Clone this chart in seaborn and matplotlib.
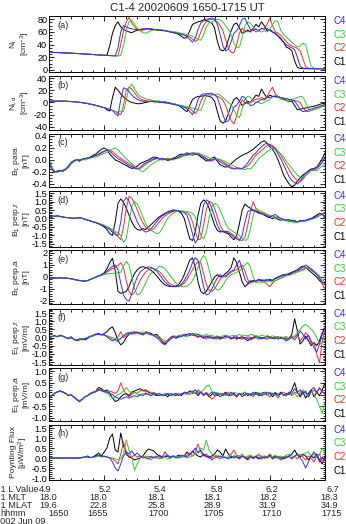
import numpy as np
import pandas as pd
import matplotlib
matplotlib.use("Agg")
import matplotlib.pyplot as plt
import seaborn as sns
from matplotlib.ticker import MultipleLocator, AutoMinorLocator, FormatStrFormatter

# minutes after 16:50 UT, one sample every 15 s
t_min = np.arange(101) * 0.25

# (a) ion density N_i [cm^-3]
n_c1 = [28.0,27.8,27.6,27.5,27.3,27.1,26.9,26.7,26.5,26.3,
        26.0,25.8,25.5,25.2,25.0,24.7,24.4,24.1,23.8,23.5,
        23.2,23.5,38,58,70,76,68,64,62,60,
        59,61,63,64,64,65,65,64,64,63,
        63,62,62,61,60,59,58,56,53,50,
        52,62,72,74,76,77,79,78,76,74,
        66,45,32,30,34,48,62,72,74,66,
        58,60,63,60,66,72,68,76,70,62,
        64,60,58,54,50,44,36,34,30,14,
        4,2.5,2.2,2.0,2.0,1.9,1.9,1.8,1.8,1.8,
        1.7]
n_c2 = [28.0,27.8,27.6,27.5,27.3,27.1,26.9,26.7,26.5,26.3,
        26.0,25.8,25.5,25.2,25.0,24.7,24.4,24.1,23.8,23.5,
        23.2,23.0,22.7,22.5,22.3,22.5,40,62,76,83,
        74,68,64,62,63,64,65,65,64,64,
        63,63,62,61,60,60,59,58,57,55,
        54,52,49,45,48,60,70,76,80,80,
        78,76,70,62,48,34,28,27,40,58,
        66,62,60,62,64,60,62,65,66,72,
        82,70,60,58,55,50,45,40,38,36,
        34,30,18,5,3,2.4,2.2,2.1,2.0,2.0,
        1.9]
n_c3 = [28.0,27.8,27.6,27.5,27.3,27.1,26.9,26.7,26.5,26.3,
        26.0,25.8,25.5,25.2,25.0,24.7,24.4,24.1,23.8,23.5,
        23.2,23.0,22.7,22.5,22.3,22.1,23,38,62,76,
        79,72,66,62,59,58,60,62,63,64,
        64,63,62,62,61,60,60,59,58,57,
        56,55,53,51,48,47,55,68,74,76,
        78,80,79,76,70,64,56,42,35,36,
        52,70,76,74,68,64,62,60,62,60,
        64,72,78,76,62,56,52,48,44,40,
        36,38,42,40,22,6,3,2.4,2.2,2.1,
        2.0]
n_c4 = [28.0,27.8,27.6,27.5,27.3,27.1,26.9,26.7,26.5,26.3,
        26.0,25.8,25.5,25.2,25.0,24.7,24.4,24.1,23.8,23.5,
        23.2,23.0,22.7,22.5,22.0,35,60,70,68,66,
        65,64,64,64,65,65,65,65,64,64,
        63,63,62,61,60,59,58,57,56,55,
        53,48,44,50,64,74,78,80,81,82,
        80,72,56,38,30,33,45,58,62,70,
        80,82,72,64,62,65,62,66,64,66,
        62,60,57,53,48,44,40,37,35,32,
        20,6,3,2.4,2.2,2.1,2.0,2.0,1.9,1.9,
        1.8]

# (b) detrended density [cm^-3]
dn_c1 = [2.0,2.1,2.2,2.2,2.2,2.1,2.0,1.8,1.5,1.2,
         0.8,0.3,-0.3,-1.0,-1.8,-2.7,-3.7,-4.8,-6.0,-7.3,
         -8.6,-12,-14,8,25,20,14,9,5,2,
         0,-1,-2,-2,-1,0,1,2,2,2,
         2,1,1,0,-1,-2,-3,-5,-8,-12,
         -15,-5,5,8,10,10,11,11,10,8,
         2,-15,-30,-34,-30,-18,-5,5,8,2,
         -5,-2,2,0,6,12,10,22,14,8,
         12,10,10,9,8,6,3,2,2,-5,
         -12,-11,-10,-9,-8,-7,-6,-5,-3,-2,
         -1]
dn_c2 = [2.0,2.1,2.2,2.2,2.2,2.1,2.0,1.8,1.5,1.2,
         0.8,0.3,-0.3,-1.0,-1.8,-2.7,-3.7,-4.8,-6.0,-7.3,
         -8.6,-10,-11.5,-13,-14.5,-18,-20,-5,20,25,
         22,16,10,6,4,3,2,2,1,1,
         0,0,-1,-1,-2,-3,-4,-5,-6,-7,
         -8,-10,-14,-18,-12,2,10,14,15,15,
         12,10,8,4,-5,-18,-30,-35,-22,-5,
         4,0,-2,0,3,5,6,8,6,10,
         18,25,14,10,8,7,6,5,4,3,
         2,0,-8,-14,-15,-13,-11,-10,-8,-6,
         -4]
dn_c3 = [2.0,2.1,2.2,2.2,2.2,2.1,2.0,1.8,1.5,1.2,
         0.8,0.3,-0.3,-1.0,-1.8,-2.7,-3.7,-4.8,-6.0,-7.3,
         -8.6,-10,-11.5,-13,-14.5,-16,-14,-15,5,24,
         30,22,15,10,8,6,5,4,3,2,
         2,1,0,-1,-1,-2,-3,-4,-5,-6,
         -7,-8,-9,-10,-12,-13,-2,10,12,12,
         13,14,12,8,4,0,-4,-12,-22,-25,
         -10,6,10,8,2,0,0,-2,0,3,
         5,9,12,10,5,4,3,4,5,6,
         8,10,9,0,-10,-13,-12,-10,-9,-7,
         -6]
dn_c4 = [2.0,2.1,2.2,2.2,2.2,2.1,2.0,1.8,1.5,1.2,
         0.8,0.3,-0.3,-1.0,-1.8,-2.7,-3.7,-4.8,-6.0,-7.3,
         -8.6,-10,-11.5,-13,-18,-22,5,24,22,18,
         12,8,5,3,2,2,2,2,1,1,
         1,0,0,-1,-2,-3,-4,-5,-6,-8,
         -10,-15,-20,-10,5,12,14,14,14,14,
         13,8,-5,-20,-32,-30,-20,-8,-4,2,
         10,8,0,-5,-4,0,2,5,4,8,
         8,10,9,9,8,7,6,5,4,2,
         -4,-12,-15,-14,-12,-11,-9,-8,-6,-5,
         -3]

# (c) B para [nT]
bp_c1 = [-0.02,-0.15,-0.20,-0.19,-0.17,-0.19,-0.16,-0.12,-0.05,-0.02,
         0.00,-0.02,0.01,0.03,0.02,0.05,0.08,0.10,0.14,0.18,
         0.20,0.17,0.10,0.05,0.00,-0.02,-0.04,-0.07,-0.09,-0.12,
         -0.14,-0.13,-0.10,-0.06,-0.04,-0.02,0.00,0.03,0.05,0.04,
         0.02,0.00,0.02,-0.01,0.01,0.03,0.05,0.08,0.10,0.08,
         0.12,0.10,0.08,0.11,0.09,0.05,0.02,-0.02,0.00,0.03,
         0.05,-0.02,-0.08,-0.10,-0.12,-0.10,-0.06,-0.02,0.02,0.05,
         0.08,0.10,0.12,0.15,0.18,0.22,0.26,0.30,0.32,0.28,
         0.22,0.18,0.10,0.00,-0.12,-0.25,-0.33,-0.40,-0.45,-0.42,
         -0.35,-0.30,-0.25,-0.22,-0.18,-0.15,-0.14,-0.12,-0.05,0.02,
         0.12]
bp_c2 = [-0.01,-0.14,-0.19,-0.20,-0.18,-0.18,-0.16,-0.12,-0.06,-0.02,
         0.00,0.01,0.00,0.02,0.03,0.04,0.05,0.07,0.09,0.11,
         0.14,0.16,0.17,0.14,0.10,0.06,0.03,0.00,-0.03,-0.06,
         -0.09,-0.12,-0.14,-0.15,-0.11,-0.07,-0.04,-0.02,0.01,0.02,
         0.03,0.01,0.02,0.00,0.02,0.01,0.03,0.04,0.06,0.08,
         0.10,0.08,0.11,0.12,0.10,0.08,0.06,0.03,0.00,-0.02,
         0.01,0.02,0.00,-0.03,-0.06,-0.09,-0.12,-0.14,-0.15,-0.13,
         -0.15,-0.12,-0.10,-0.05,0.02,0.08,0.12,0.16,0.20,0.24,
         0.26,0.24,0.20,0.14,0.08,0.00,-0.08,-0.16,-0.24,-0.30,
         -0.34,-0.36,-0.32,-0.26,-0.20,-0.16,-0.15,-0.13,-0.08,-0.03,
         0.04]
bp_c3 = [0.05,-0.12,-0.18,-0.21,-0.18,-0.17,-0.17,-0.13,-0.07,-0.03,
         -0.01,0.00,0.01,0.00,0.02,0.03,0.04,0.05,0.07,0.09,
         0.11,0.13,0.15,0.18,0.20,0.17,0.12,0.07,0.02,-0.02,
         -0.06,-0.10,-0.14,-0.17,-0.20,-0.16,-0.12,-0.08,-0.05,-0.02,
         0.00,0.02,0.01,0.03,0.01,0.00,0.02,0.03,0.05,0.07,
         0.08,0.10,0.08,0.10,0.12,0.10,0.08,0.06,0.04,0.02,
         0.00,0.02,0.01,-0.01,-0.03,-0.06,-0.08,-0.10,-0.12,-0.14,
         -0.15,-0.16,-0.14,-0.15,-0.10,-0.04,0.02,0.06,0.10,0.14,
         0.17,0.20,0.18,0.15,0.10,0.05,-0.02,-0.08,-0.14,-0.20,
         -0.25,-0.28,-0.30,-0.26,-0.22,-0.18,-0.16,-0.18,-0.14,-0.10,
         -0.08]
bp_c4 = [0.00,-0.16,-0.20,-0.18,-0.19,-0.17,-0.15,-0.10,-0.04,-0.01,
         0.01,-0.01,0.02,0.02,0.04,0.04,0.06,0.08,0.10,0.13,
         0.15,0.17,0.15,0.10,0.06,0.02,0.00,-0.03,-0.06,-0.09,
         -0.11,-0.14,-0.15,-0.12,-0.08,-0.05,-0.03,0.00,0.02,0.03,
         0.01,0.03,0.00,0.02,0.00,0.02,0.03,0.05,0.08,0.10,
         0.08,0.11,0.12,0.09,0.10,0.07,0.04,0.02,-0.02,0.00,
         0.02,0.00,-0.03,-0.06,-0.08,-0.12,-0.14,-0.15,-0.13,-0.15,
         -0.14,-0.10,-0.05,0.02,0.08,0.12,0.18,0.22,0.26,0.28,
         0.25,0.22,0.18,0.10,0.02,-0.08,-0.18,-0.28,-0.34,-0.38,
         -0.40,-0.35,-0.28,-0.22,-0.18,-0.16,-0.17,-0.14,-0.10,-0.04,
         0.05]

# (d) B perp,r [nT]
br_c1 = [0.10,0.15,0.12,0.16,0.12,0.08,0.05,0.06,0.02,0.00,
         0.03,0.05,0.02,-0.05,-0.10,-0.15,-0.20,-0.25,-0.32,-0.40,
         -0.50,-0.65,-0.90,-1.00,-0.20,0.90,1.15,0.95,0.60,0.20,
         -0.20,-0.50,-0.65,-0.70,-0.60,-0.65,-0.50,-0.35,-0.20,-0.05,
         0.10,0.20,0.30,0.38,0.45,0.50,0.48,0.40,0.30,0.00,
         -0.60,-1.20,-1.30,-0.80,0.20,0.90,1.10,0.95,0.60,0.10,
         -0.40,-0.70,-0.80,-0.75,-0.85,-0.90,-1.10,-1.25,-1.00,-0.30,
         0.50,0.85,0.70,0.60,0.50,0.45,0.35,0.30,0.20,0.10,
         0.05,0.00,0.05,-0.05,-0.10,-0.05,-0.10,-0.15,-0.10,-0.15,
         -0.20,-0.12,-0.15,-0.10,-0.05,0.00,0.10,0.20,0.30,0.25,
         0.05]
br_c2 = [0.10,0.13,0.14,0.14,0.12,0.10,0.06,0.04,0.03,0.02,
         0.02,0.03,0.01,-0.04,-0.09,-0.14,-0.19,-0.24,-0.30,-0.36,
         -0.42,-0.50,-0.60,-0.75,-0.85,-1.05,-1.25,-0.50,0.60,1.30,
         1.20,0.90,0.50,0.10,-0.25,-0.50,-0.65,-0.70,-0.60,-0.40,
         -0.20,0.00,0.15,0.25,0.35,0.40,0.45,0.45,0.42,0.40,
         0.35,0.20,-0.20,-0.80,-1.25,-1.20,-0.40,0.50,1.00,0.95,
         0.60,0.10,-0.40,-0.70,-0.80,-0.75,-0.90,-1.00,-1.10,-1.25,
         -1.30,-1.10,-0.40,0.40,1.00,0.60,0.40,0.35,0.30,0.20,
         0.15,0.10,0.05,0.10,0.00,-0.05,-0.10,-0.20,-0.15,-0.25,
         -0.20,-0.15,-0.20,-0.10,-0.10,-0.05,0.00,0.10,0.20,0.30,
         0.10]
br_c3 = [0.10,0.12,0.14,0.13,0.12,0.10,0.07,0.04,0.02,0.02,
         0.02,0.02,0.00,-0.03,-0.08,-0.13,-0.18,-0.22,-0.28,-0.34,
         -0.40,-0.48,-0.56,-0.65,-0.75,-0.85,-1.00,-1.40,-1.20,-0.20,
         0.70,1.00,0.85,0.50,0.10,-0.30,-0.55,-0.70,-0.80,-0.90,
         -0.85,-0.60,-0.30,0.00,0.20,0.30,0.40,0.45,0.45,0.42,
         0.40,0.38,0.30,0.10,-0.40,-1.00,-1.20,-0.80,0.00,0.70,
         0.90,0.80,0.50,0.10,-0.30,-0.60,-0.70,-0.80,-0.90,-1.00,
         -1.15,-1.30,-1.20,-0.60,0.20,0.60,0.50,0.40,0.35,0.25,
         0.20,0.15,0.10,0.05,0.00,-0.10,-0.15,-0.10,-0.20,-0.25,
         -0.20,-0.20,-0.15,-0.10,-0.05,-0.05,0.00,0.05,0.15,0.25,
         0.05]
br_c4 = [0.10,0.14,0.13,0.15,0.12,0.09,0.06,0.05,0.03,0.01,
         0.02,0.04,0.02,-0.04,-0.10,-0.14,-0.20,-0.25,-0.30,-0.38,
         -0.45,-0.55,-0.65,-0.80,-0.95,-1.00,-0.20,1.00,1.25,1.00,
         0.60,0.20,-0.20,-0.50,-0.70,-0.80,-0.75,-0.60,-0.40,-0.20,
         0.00,0.15,0.25,0.35,0.40,0.45,0.48,0.45,0.40,0.35,
         0.20,-0.30,-0.90,-1.45,-1.20,-0.20,0.80,1.10,1.00,0.60,
         0.10,-0.40,-0.70,-0.80,-0.75,-0.85,-0.95,-1.10,-1.20,-1.30,
         -1.00,-0.20,0.40,0.50,0.45,0.40,0.30,0.28,0.22,0.15,
         0.10,0.15,0.25,0.10,0.00,-0.05,-0.10,-0.05,-0.15,-0.10,
         -0.20,-0.15,-0.10,-0.15,-0.05,0.00,0.05,0.15,0.30,0.25,
         0.10]

# (e) B perp,a [nT]
ba_c1 = [-0.10,-0.12,-0.08,-0.10,-0.05,-0.10,-0.08,-0.12,-0.15,-0.20,
         -0.25,-0.30,-0.32,-0.35,-0.30,-0.20,-0.10,0.00,0.10,0.20,
         0.35,0.70,1.20,1.55,0.50,-1.20,-1.35,-1.30,-1.20,-0.80,
         -0.20,0.30,0.60,0.80,0.85,0.80,0.70,0.55,0.35,0.10,
         -0.20,-0.45,-0.65,-0.75,-0.80,-0.80,-0.75,-0.60,-0.30,0.20,
         0.80,1.40,1.60,0.80,-0.40,-1.20,-1.40,-1.20,-0.80,-0.40,
         0.00,0.20,0.00,0.10,0.30,0.50,0.80,1.60,1.20,0.40,
         -0.40,-0.80,-0.60,-0.40,-0.30,-0.35,-0.20,-0.30,-0.25,-0.35,
         -0.20,-0.30,-0.10,0.00,0.10,0.20,0.15,0.30,0.40,0.50,
         0.60,0.80,0.90,0.80,0.60,0.40,0.20,0.00,-0.30,-0.50,
         -0.40]
ba_c2 = [-0.10,-0.11,-0.09,-0.09,-0.07,-0.09,-0.09,-0.11,-0.14,-0.19,
         -0.24,-0.29,-0.31,-0.33,-0.30,-0.21,-0.11,-0.01,0.08,0.17,
         0.25,0.40,0.55,0.70,0.80,0.95,1.20,0.80,-0.30,-1.20,
         -1.50,-1.30,-0.80,-0.30,0.10,0.40,0.60,0.70,0.70,0.60,
         0.45,0.20,-0.10,-0.40,-0.60,-0.70,-0.80,-0.80,-0.70,-0.50,
         -0.20,0.20,0.60,1.00,1.30,1.20,0.30,-0.60,-1.10,-1.20,
         -1.00,-0.60,-0.20,0.10,0.00,0.20,0.40,0.50,0.60,0.80,
         1.00,0.50,-0.20,-0.50,-0.40,-0.35,-0.30,-0.20,-0.40,-0.60,
         -0.80,-0.50,-0.30,-0.20,-0.10,0.00,0.10,0.20,0.30,0.35,
         0.45,0.55,0.65,0.75,0.80,0.70,0.50,0.30,0.00,-0.60,
         -1.00]
ba_c3 = [-0.10,-0.10,-0.10,-0.09,-0.08,-0.08,-0.10,-0.11,-0.13,-0.18,
         -0.22,-0.27,-0.30,-0.32,-0.30,-0.22,-0.12,-0.03,0.05,0.12,
         0.20,0.25,0.30,0.30,0.30,0.35,0.40,0.90,1.30,1.00,
         0.00,-1.00,-1.50,-1.40,-1.00,-0.50,0.00,0.30,0.50,0.70,
         0.90,0.85,0.70,0.40,0.10,-0.20,-0.50,-0.70,-0.80,-0.80,
         -0.75,-0.60,-0.30,0.20,0.80,1.40,1.80,1.50,0.60,-0.30,
         -0.90,-1.10,-1.00,-0.70,-0.30,0.00,0.20,0.30,0.40,0.50,
         0.70,1.00,1.20,0.80,0.00,-0.50,-0.40,-0.50,-0.40,-0.30,
         -0.35,-0.45,-0.30,-0.20,-0.10,0.00,0.10,0.15,0.20,0.30,
         0.40,0.50,0.55,0.70,0.75,0.60,0.45,0.30,0.10,-0.20,
         -0.40]
ba_c4 = [-0.10,-0.10,-0.09,-0.10,-0.07,-0.10,-0.09,-0.12,-0.15,-0.20,
         -0.25,-0.30,-0.32,-0.34,-0.30,-0.20,-0.10,0.00,0.10,0.20,
         0.30,0.50,0.70,0.90,1.00,0.60,-0.50,-1.50,-1.90,-2.00,
         -1.40,-0.60,0.00,0.40,0.60,0.75,0.85,0.80,0.70,0.50,
         0.20,-0.10,-0.40,-0.60,-0.75,-0.80,-0.80,-0.75,-0.60,-0.30,
         0.10,0.60,1.20,1.60,1.40,0.30,-0.80,-1.50,-1.40,-1.00,
         -0.50,-0.10,0.20,0.00,0.10,0.30,0.50,0.60,1.00,1.40,
         0.60,-0.20,-0.50,-0.30,-0.40,-0.30,-0.25,-0.35,-0.30,-0.20,
         -0.30,-0.25,-0.15,-0.05,0.05,0.10,0.25,0.20,0.35,0.45,
         0.55,0.65,0.80,1.00,0.85,0.60,0.40,0.20,-0.10,-0.40,
         -0.60]

# (f) E perp,r [mV/m]
er_c1 = [0.00,0.05,0.10,0.05,0.12,0.08,0.00,-0.05,0.05,-0.10,
         -0.20,-0.15,-0.05,-0.15,-0.05,0.05,0.10,0.20,0.25,0.15,
         0.25,0.35,0.55,0.65,0.30,-0.20,-0.45,-0.30,0.00,0.20,
         0.30,0.35,0.25,0.30,0.20,0.35,0.30,0.25,0.15,0.20,
         0.00,-0.25,-0.40,-0.20,0.00,0.10,-0.05,0.05,0.15,0.10,
         0.20,0.10,0.25,0.15,0.05,0.10,-0.05,0.05,0.10,-0.05,
         0.00,0.05,-0.10,0.00,0.10,0.05,-0.05,0.05,-0.10,0.00,
         0.05,-0.05,-0.20,-0.05,0.00,0.10,0.05,-0.05,0.00,0.10,
         0.05,-0.05,0.00,0.05,-0.05,0.00,-0.10,-0.05,0.20,1.15,
         0.40,-0.40,-0.20,0.10,-0.20,-0.50,-0.30,-0.50,-0.20,0.30,
         0.60]
er_c2 = [0.00,0.06,0.10,0.04,0.10,0.06,-0.02,-0.06,0.00,-0.10,
         -0.16,-0.10,-0.12,-0.06,0.00,0.06,0.12,0.18,0.20,0.15,
         0.18,0.10,0.00,-0.10,-0.15,0.05,0.35,0.00,0.10,0.25,
         0.30,0.20,0.30,0.20,0.25,0.30,0.20,0.15,0.20,0.05,
         -0.05,-0.20,-0.30,-0.15,0.00,0.05,0.10,0.00,0.10,0.20,
         0.10,0.15,0.25,0.10,0.00,0.15,0.05,-0.10,0.05,-0.05,
         0.00,-0.10,0.05,0.00,-0.05,0.10,0.00,-0.05,0.05,-0.05,
         0.00,-0.10,0.05,0.00,-0.05,0.05,0.00,-0.10,0.00,0.05,
         -0.05,0.00,-0.10,0.05,-0.05,0.00,0.05,-0.10,0.10,0.00,
         0.20,-0.20,0.00,0.30,0.10,-0.40,-0.30,-1.00,-1.55,-0.20,
         0.50]
er_c3 = [0.00,0.04,0.08,0.06,0.10,0.05,0.00,-0.05,-0.02,-0.08,
         -0.14,-0.12,-0.08,-0.04,0.02,0.06,0.10,0.15,0.20,0.18,
         0.15,0.10,0.05,0.00,-0.05,-0.10,-0.05,0.10,0.20,0.30,
         0.35,0.30,0.25,0.30,0.35,0.25,0.30,0.20,0.15,0.10,
         0.05,-0.10,-0.20,-0.25,-0.10,0.00,0.05,0.10,0.15,0.10,
         0.05,0.20,0.15,0.25,0.20,0.15,0.10,0.20,0.10,0.15,
         0.05,0.10,0.00,0.10,0.15,0.05,0.10,0.15,0.10,0.20,
         0.10,0.15,0.10,0.20,0.15,0.10,0.05,0.15,0.10,0.00,
         0.05,0.10,0.05,-0.05,0.05,0.00,0.05,-0.05,0.00,0.10,
         0.30,0.50,0.70,0.80,0.65,0.50,0.30,0.00,-0.40,-0.30,
         0.10]
er_c4 = [0.02,0.08,0.12,0.06,0.15,0.10,0.02,-0.08,-0.02,-0.12,
         -0.18,-0.08,-0.15,-0.08,-0.02,0.08,0.15,0.22,0.18,0.20,
         0.15,0.05,-0.10,-0.20,-0.10,-0.25,-0.05,0.10,0.25,0.30,
         0.20,0.30,0.35,0.25,0.15,0.25,0.30,0.20,0.10,0.00,
         -0.15,-0.35,-0.45,-0.25,-0.10,0.05,0.00,0.10,0.05,0.15,
         0.20,0.25,0.15,0.10,0.20,0.05,0.00,0.10,-0.05,0.05,
         -0.10,0.05,0.00,-0.05,0.10,0.00,-0.10,0.00,0.05,-0.05,
         -0.10,0.00,-0.05,-0.15,-0.05,0.00,-0.10,0.00,-0.05,-0.10,
         0.00,-0.05,0.00,-0.10,0.00,-0.10,-0.20,-0.10,0.00,-0.15,
         0.10,0.40,0.20,-0.10,0.15,-0.20,-0.60,-0.90,-0.40,0.20,
         0.60]

# (g) E perp,a [mV/m]
ea_c1 = [-0.10,-0.05,0.05,0.10,0.15,0.12,0.05,-0.05,0.00,-0.10,
         -0.20,-0.30,-0.20,-0.10,-0.05,0.05,0.10,0.15,0.30,0.25,
         0.15,0.20,0.05,-0.15,-0.30,-0.25,-0.10,0.00,0.05,-0.05,
         0.10,0.15,0.20,0.25,0.15,0.20,0.10,0.05,0.00,-0.05,
         0.05,-0.05,0.00,-0.10,0.05,0.00,-0.05,0.05,-0.05,0.10,
         0.05,0.15,0.05,0.10,-0.05,0.10,0.00,0.05,-0.10,0.00,
         0.10,-0.05,0.05,0.00,0.10,-0.05,0.00,0.05,-0.10,0.05,
         0.00,0.10,-0.05,0.05,0.00,0.10,-0.05,0.05,0.10,0.00,
         0.05,-0.10,0.05,0.00,0.10,-0.05,0.05,0.00,0.20,0.50,
         0.10,-0.10,0.10,-0.15,0.05,0.20,-0.10,0.10,-0.05,0.20,
         0.50]
ea_c2 = [-0.10,-0.04,0.06,0.10,0.14,0.10,0.04,-0.04,0.00,-0.10,
         -0.20,-0.28,-0.20,-0.10,-0.04,0.04,0.08,0.12,0.22,0.20,
         0.15,0.10,0.15,0.10,0.05,0.15,0.50,0.20,0.00,-0.10,
         0.00,0.10,0.05,0.15,0.20,0.10,0.15,0.05,0.10,0.00,
         0.05,-0.05,0.00,0.05,-0.05,0.00,0.05,-0.05,0.05,0.00,
         0.10,0.00,0.15,0.05,0.20,0.10,0.00,0.10,-0.05,-0.20,
         -0.10,0.00,0.05,-0.05,0.00,0.10,-0.05,0.00,-0.10,0.05,
         0.00,-0.05,0.05,0.00,-0.10,0.05,0.00,-0.05,0.10,0.00,
         -0.10,0.05,0.00,-0.15,0.05,0.10,0.00,0.05,-0.05,0.10,
         0.05,0.00,0.15,0.05,-0.10,0.10,0.20,0.05,0.30,0.10,
         0.05]
ea_c3 = [-0.10,-0.04,0.04,0.10,0.14,0.10,0.04,-0.04,0.00,-0.10,
         -0.18,-0.26,-0.20,-0.10,-0.04,0.04,0.08,0.12,0.18,0.15,
         0.10,0.05,-0.05,-0.15,-0.10,0.00,0.05,0.15,0.30,0.15,
         0.05,0.10,0.00,-0.05,0.05,0.00,0.05,-0.05,0.00,0.05,
         0.00,-0.05,0.05,0.00,0.05,-0.05,0.00,0.05,0.00,0.10,
         0.00,0.05,0.10,0.05,0.15,0.10,0.20,0.35,0.40,0.15,
         0.05,0.10,0.00,0.05,-0.05,0.05,0.00,0.10,0.05,0.00,
         0.05,0.10,0.00,0.05,-0.05,0.05,0.10,0.00,0.05,-0.05,
         0.10,0.05,-0.05,0.00,0.05,-0.05,0.00,0.10,0.00,0.05,
         -0.10,0.10,0.20,0.05,-0.05,0.10,0.00,-0.20,-0.50,-0.80,
         -0.30]
ea_c4 = [-0.12,-0.05,0.05,0.12,0.15,0.10,0.05,-0.05,-0.02,-0.12,
         -0.22,-0.30,-0.22,-0.10,-0.05,0.02,0.08,0.12,0.20,0.18,
         0.12,0.10,0.05,0.00,-0.10,-0.15,-0.20,-0.15,-0.10,-0.15,
         -0.10,-0.05,-0.10,0.00,-0.05,0.05,0.00,-0.05,0.05,0.00,
         -0.05,0.00,-0.05,0.05,-0.05,0.00,0.05,-0.05,0.00,0.10,
         0.05,0.15,0.10,0.20,0.05,0.10,-0.05,0.05,0.00,0.10,
         -0.05,0.05,-0.10,0.00,0.05,-0.05,0.10,0.00,-0.05,0.05,
         -0.10,0.00,0.05,-0.05,0.10,0.00,0.05,-0.05,0.00,0.10,
         0.05,0.00,0.10,-0.05,0.05,0.00,-0.05,0.10,0.05,0.25,
         0.10,0.20,0.00,0.15,-0.10,0.20,0.30,0.10,0.25,0.15,
         0.00]

# (h) Poynting flux [uW/m^2]
s_c1 = [0.00,0.00,0.01,0.00,0.00,-0.01,0.00,0.00,-0.01,0.00,
        0.01,0.00,0.02,0.05,0.10,0.02,0.05,0.15,0.25,0.10,
        0.30,0.50,1.00,1.20,0.40,0.30,1.25,0.60,0.20,0.05,
        0.00,-0.10,-0.05,0.00,0.10,0.30,0.45,0.40,0.35,0.20,
        0.10,0.00,0.05,0.10,0.00,0.10,0.05,0.15,0.05,0.10,
        0.30,0.15,0.35,0.20,0.10,0.05,0.20,0.10,0.00,0.10,
        0.20,0.40,0.30,0.10,0.45,0.20,0.00,0.10,0.05,0.00,
        0.10,0.05,-0.05,0.10,0.00,0.05,-0.05,0.10,0.00,0.05,
        0.15,0.00,0.10,0.05,0.00,-0.05,0.05,0.10,0.20,0.40,
        0.15,0.05,0.20,0.10,-0.10,0.10,0.00,0.20,-0.10,-0.30,
        0.10]
s_c2 = [0.00,0.00,0.00,0.00,0.01,0.00,0.00,-0.01,0.00,0.00,
        0.00,0.01,0.01,0.05,0.06,0.02,0.04,0.08,0.12,0.06,
        0.08,0.05,0.02,-0.05,-0.15,-0.30,0.20,0.80,0.30,0.10,
        0.05,0.15,0.05,0.10,0.00,0.05,0.10,0.00,0.05,0.10,
        0.00,0.05,0.10,0.15,0.05,0.10,0.05,0.00,0.10,0.05,
        0.15,0.25,0.10,0.30,0.70,0.30,0.10,0.20,0.05,0.00,
        0.10,0.05,-0.05,0.10,0.00,0.05,0.20,0.40,0.15,0.05,
        0.10,0.00,0.05,0.10,-0.05,0.05,0.15,0.00,0.10,0.05,
        0.20,0.05,0.00,0.10,0.05,0.00,0.10,0.05,0.00,0.10,
        -0.05,0.15,0.05,-0.10,0.10,0.00,-0.20,0.10,0.20,-0.20,
        0.00]
s_c3 = [0.00,0.00,0.00,0.00,0.00,0.01,0.00,0.00,-0.01,0.00,
        0.00,0.00,0.01,0.04,0.05,0.02,0.03,0.06,0.10,0.05,
        0.06,0.04,0.02,0.00,-0.05,-0.10,-0.05,0.20,0.90,0.40,
        0.00,-0.60,-0.30,0.00,0.10,0.05,0.00,-0.10,0.05,0.00,
        -0.05,0.00,0.05,-0.05,0.00,0.05,0.10,0.00,0.05,0.10,
        0.00,0.05,0.10,0.20,0.30,0.50,0.40,0.90,0.40,0.20,
        0.10,0.15,0.05,0.10,0.00,0.05,0.10,0.05,0.15,0.10,
        0.20,0.05,0.10,0.15,0.05,0.10,0.20,0.05,0.10,0.00,
        0.10,0.05,0.15,0.00,0.10,0.05,0.15,0.20,0.10,0.05,
        0.15,0.20,0.10,0.25,0.30,0.10,0.20,0.05,0.15,0.50,
        0.20]
s_c4 = [0.00,0.00,0.00,0.01,0.00,0.00,-0.01,0.00,0.00,-0.01,
        0.00,0.01,0.02,0.08,0.05,0.02,0.05,0.10,0.15,0.08,
        0.10,0.05,0.00,-0.20,-0.50,-0.65,-0.30,0.10,0.30,0.20,
        0.35,0.15,0.25,0.10,0.05,0.00,-0.05,0.10,0.00,0.05,
        0.15,0.05,0.30,0.10,0.05,0.10,0.00,0.05,0.15,0.10,
        0.05,0.20,0.30,0.50,0.25,0.40,0.15,0.05,0.10,-0.10,
        0.00,0.05,0.10,0.00,0.05,-0.05,0.10,0.00,0.05,-0.05,
        0.10,0.00,-0.10,0.05,0.00,0.10,0.00,-0.05,0.05,0.00,
        0.10,-0.05,0.05,0.00,-0.10,0.05,0.00,0.10,-0.05,0.10,
        0.20,0.00,-0.20,-0.50,-0.20,0.10,0.30,0.10,-0.20,0.05,
        -0.10]

# orbit annotation rows under the bottom panel
l_value = ["4.9", "5.2", "5.4", "5.8", "6.2", "6.7"]
mlt = ["18.0", "18.0", "18.1", "18.1", "18.2", "18.3"]
mlat = ["19.6", "22.8", "25.8", "28.9", "31.9", "34.9"]
hhmm = ["1650", "1655", "1700", "1705", "1710", "1715"]

sc_names = ["C1", "C2", "C3", "C4"]
sc_colors = {"C1": "#000000", "C2": "#ff2a2a", "C3": "#2ecc2e", "C4": "#3030ff"}

panels = [
    ("(a)", "N$_i$\n[cm$^{-3}$]", [n_c1, n_c2, n_c3, n_c4], (-3.2, 85.2), 20, 4, "%d", (16, 72)),
    ("(b)", "N$_{i,d}$\n[cm$^{-3}$]", [dn_c1, dn_c2, dn_c3, dn_c4], (-45, 43.3), 20, 4, "%d", (76, 130)),
    ("(c)", "B$_1$ para\n[nT]", [bp_c1, bp_c2, bp_c3, bp_c4], (-0.45, 0.433), 0.2, 4, "%.1f", (134, 187)),
    ("(d)", "B$_1$ perp,r\n[nT]", [br_c1, br_c2, br_c3, br_c4], (-1.68, 1.62), 0.5, 5, "%.1f", (191, 247)),
    ("(e)", "B$_1$ perp,a\n[nT]", [ba_c1, ba_c2, ba_c3, ba_c4], (-2.25, 2.25), 1, 5, "%d", (250, 304)),
    ("(f)", "E$_1$ perp,r\n[mV/m]", [er_c1, er_c2, er_c3, er_c4], (-1.68, 1.745), 0.5, 5, "%.1f", (309, 365)),
    ("(g)", "E$_1$ perp,a\n[mV/m]", [ea_c1, ea_c2, ea_c3, ea_c4], (-1.13, 1.13), 0.5, 5, "%.1f", (368, 421)),
    ("(h)", "Poynting Flux\n[\u03bcW/m$^2$]", [s_c1, s_c2, s_c3, s_c4], (-1.1, 1.65), 0.5, 5, "%.1f", (425, 480)),
]

sns.set_theme(style="ticks")
plt.rcParams["font.family"] = ["Liberation Sans", "DejaVu Sans"]
plt.rcParams["mathtext.default"] = "regular"
plt.rcParams["axes.unicode_minus"] = False

W, H = 346, 524
fig = plt.figure(figsize=(W / 100, H / 100), dpi=100)
X0, X1 = 49, 325

def fx(x):
    return x / W

def fy(y):
    return 1 - y / H

for letter, ylab, series, ylim, step, nminor, fmt, (top, bot) in panels:
    ax = fig.add_axes([fx(X0), fy(bot), (X1 - X0) / W, (bot - top) / H])
    df = pd.DataFrame({
        "t": np.tile(t_min, 4),
        "value": np.concatenate([np.asarray(s, dtype=float) for s in series]),
        "sc": np.repeat(sc_names, len(t_min)),
    })
    sns.lineplot(data=df, x="t", y="value", hue="sc", hue_order=sc_names,
                 palette=sc_colors, linewidth=0.7, legend=False,
                 errorbar=None, ax=ax)
    ax.set_xlim(0, 25)
    ax.set_ylim(*ylim)
    ax.xaxis.set_major_locator(MultipleLocator(5))
    ax.xaxis.set_minor_locator(MultipleLocator(1))
    ax.yaxis.set_major_locator(MultipleLocator(step))
    ax.yaxis.set_minor_locator(AutoMinorLocator(nminor))
    ax.yaxis.set_major_formatter(FormatStrFormatter(fmt))
    ax.tick_params(which="both", direction="in", top=True, right=True,
                   labelbottom=False, width=0.6, colors="black")
    ax.tick_params(which="major", length=3.5, labelsize=6.6, pad=1.2)
    ax.tick_params(which="minor", length=1.8)
    for sp in ax.spines.values():
        sp.set_linewidth(0.7)
        sp.set_color("black")
    ax.set_xlabel("")
    ax.set_ylabel("")
    ax.text(8 / (X1 - X0), 1 - 9 / (bot - top), letter, transform=ax.transAxes,
            fontsize=6.6, ha="left", va="center")
    fig.text(fx(20), fy((top + bot) / 2), ylab, rotation=90, fontsize=6.1,
             ha="center", va="center", linespacing=0.95, multialignment="center")
    for off, name in zip([5, 18.5, 32, 46], ["C4", "C3", "C2", "C1"]):
        fig.text(fx(333), fy(top + off), name, color=sc_colors[name],
                 fontsize=7, ha="left", va="center")

fig.text(fx(187), fy(8), "C1-4 20020609 1650-1715 UT", fontsize=8.2,
         ha="center", va="center")

rows = [
    ("C1 L Value", l_value, 489, [45, 105, 160, 217, 272, 333]),
    ("C1 MLT", mlt, 497, [48, 98, 156, 212, 268, 329]),
    ("C1 MLAT", mlat, 505, [48, 98, 156, 212, 268, 329]),
    ("hhmm", hhmm, 513, [59, 98, 159, 214, 272, 332]),
]
for title, vals, y, xs in rows:
    xt = -6 if title.startswith("C1") else 0
    fig.text(fx(xt), fy(y), title, fontsize=6.6, ha="left", va="center")
    for x, v in zip(xs, vals):
        fig.text(fx(x), fy(y), v, fontsize=6.6, ha="center", va="center")
fig.text(fx(-5), fy(522), "2002 Jun 09", fontsize=6.6, ha="left", va="center")

fig.savefig("out.png", dpi=100)
